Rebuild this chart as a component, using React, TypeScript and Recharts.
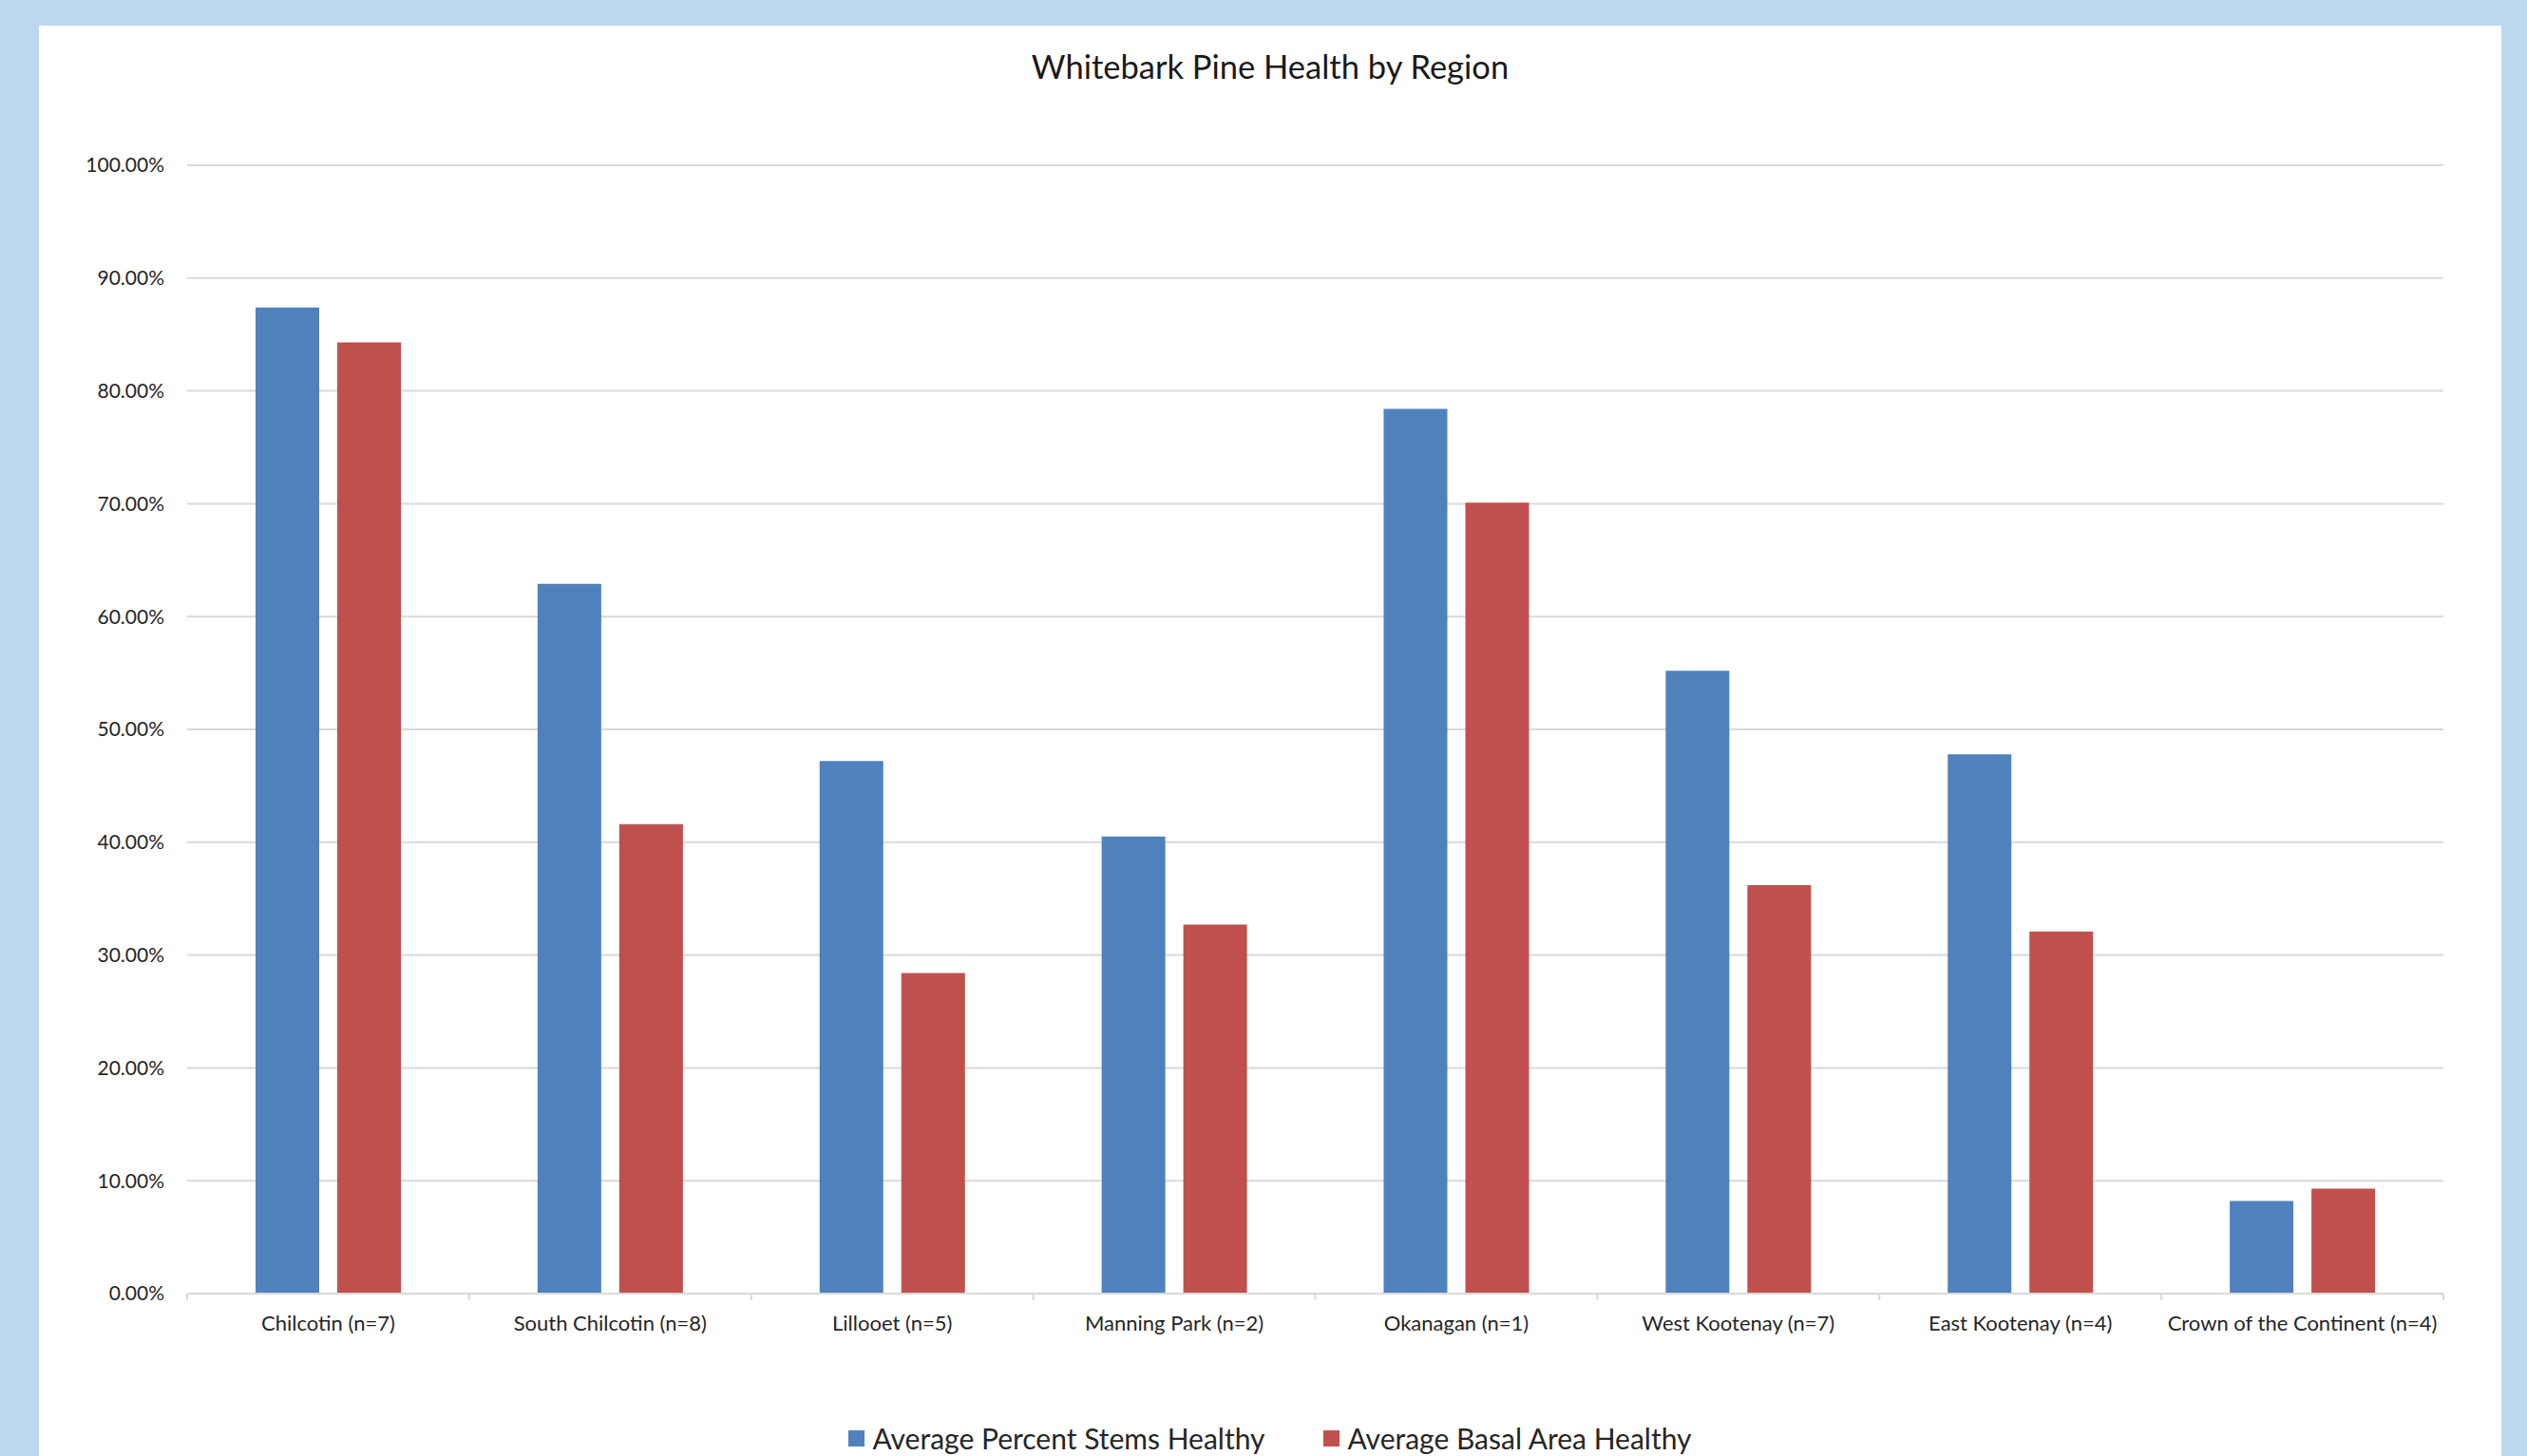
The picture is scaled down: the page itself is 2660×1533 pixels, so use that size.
import { BarChart, Bar, XAxis, YAxis, CartesianGrid, Legend } from "recharts";

const CATEGORIES = [
  "Chilcotin (n=7)",
  "South Chilcotin (n=8)",
  "Lillooet (n=5)",
  "Manning Park (n=2)",
  "Okanagan (n=1)",
  "West Kootenay (n=7)",
  "East Kootenay (n=4)",
  "Crown of the Continent (n=4)",
];
const SERIES_NAMES = ["Average Percent Stems Healthy", "Average Basal Area Healthy"];
const STEMS_HEALTHY = [87.4, 62.9, 47.2, 40.5, 78.4, 55.2, 47.8, 8.2];
const BASAL_HEALTHY = [84.3, 41.6, 28.4, 32.7, 70.1, 36.2, 32.1, 9.3];
const Y_TICKS = [0, 10, 20, 30, 40, 50, 60, 70, 80, 90, 100];

const FONT = "Lato, 'Open Sans', sans-serif";
const TEXT = "#262626";
const GRID = "#D9D9D9";

// panel is the white card inside the light blue frame
const PANEL_W = 2592;
const PANEL_H = 1506;
const MARGIN = { top: 147, right: 61, left: 0, bottom: 71 };
const Y_AXIS_W = 156;
const HALF_BAND = (PANEL_W - MARGIN.right - MARGIN.left - Y_AXIS_W) / CATEGORIES.length / 2;

const data = CATEGORIES.map((region, i) => ({
  region,
  stems: STEMS_HEALTHY[i],
  basal: BASAL_HEALTHY[i],
}));

function RegionTick(props: any) {
  const { x, y, payload, index } = props;
  const half = payload?.offset || HALF_BAND;
  const axisY = y - 8;
  const last = index === CATEGORIES.length - 1;
  return (
    <g>
      <line x1={x - half} x2={x - half} y1={axisY} y2={axisY + 7} stroke={GRID} strokeWidth={2} />
      {last && <line x1={x + half} x2={x + half} y1={axisY} y2={axisY + 7} stroke={GRID} strokeWidth={2} />}
      <text x={x} y={axisY + 39} textAnchor="middle" fill={TEXT} fontSize={22} fontFamily={FONT}>
        {payload.value}
      </text>
    </g>
  );
}

function LegendBox(props: any) {
  // keep the series order (recharts sorts legend items by name)
  const items = [...(props.payload || [])].sort(
    (a: any, b: any) => SERIES_NAMES.indexOf(a.value) - SERIES_NAMES.indexOf(b.value)
  );
  return (
    <div style={{ height: 40, display: "flex", justifyContent: "center", alignItems: "center", gap: 62 }}>
      {items.map((it: any) => (
        <div key={it.value} style={{ display: "flex", alignItems: "center", gap: 8 }}>
          <span style={{ width: 17, height: 17, background: it.color, display: "inline-block" }} />
          <span style={{ fontFamily: FONT, fontSize: 30, color: TEXT, lineHeight: "40px" }}>{it.value}</span>
        </div>
      ))}
    </div>
  );
}

export default function App() {
  return (
    <div style={{ position: "absolute", left: 0, top: 0, width: 2660, height: 1533, background: "#BDD7EE", overflow: "hidden" }}>
      <div style={{ position: "absolute", left: 41, top: 27, width: PANEL_W, height: PANEL_H, background: "#fff" }}>
        <div
          style={{
            position: "absolute",
            top: 26,
            left: 0,
            width: "100%",
            textAlign: "center",
            fontFamily: FONT,
            fontSize: 34.5,
            lineHeight: "34px",
            color: "#1a1a1a",
            zIndex: 1,
          }}
        >
          Whitebark Pine Health by Region
        </div>
        <BarChart width={PANEL_W} height={PANEL_H} data={data} margin={MARGIN} barGap={19}>
          <CartesianGrid vertical={false} stroke={GRID} strokeWidth={2} />
          <XAxis
            dataKey="region"
            height={60}
            interval={0}
            axisLine={{ stroke: GRID, strokeWidth: 2 }}
            tickLine={false}
            tick={<RegionTick />}
          />
          <YAxis
            width={Y_AXIS_W}
            domain={[0, 100]}
            ticks={Y_TICKS}
            axisLine={false}
            tickLine={false}
            tickMargin={18}
            tickFormatter={(v: number) => `${v.toFixed(2)}%`}
            tick={{ fill: TEXT, fontSize: 21, fontFamily: FONT }}
          />
          <Legend
            verticalAlign="bottom"
            content={<LegendBox />}
            wrapperStyle={{ top: 1467, bottom: "auto", left: 0, width: PANEL_W }}
          />
          <Bar dataKey="stems" name={SERIES_NAMES[0]} fill="#4F81BD" barSize={67} isAnimationActive={false} />
          <Bar dataKey="basal" name={SERIES_NAMES[1]} fill="#C0504D" barSize={67} isAnimationActive={false} />
        </BarChart>
      </div>
    </div>
  );
}
